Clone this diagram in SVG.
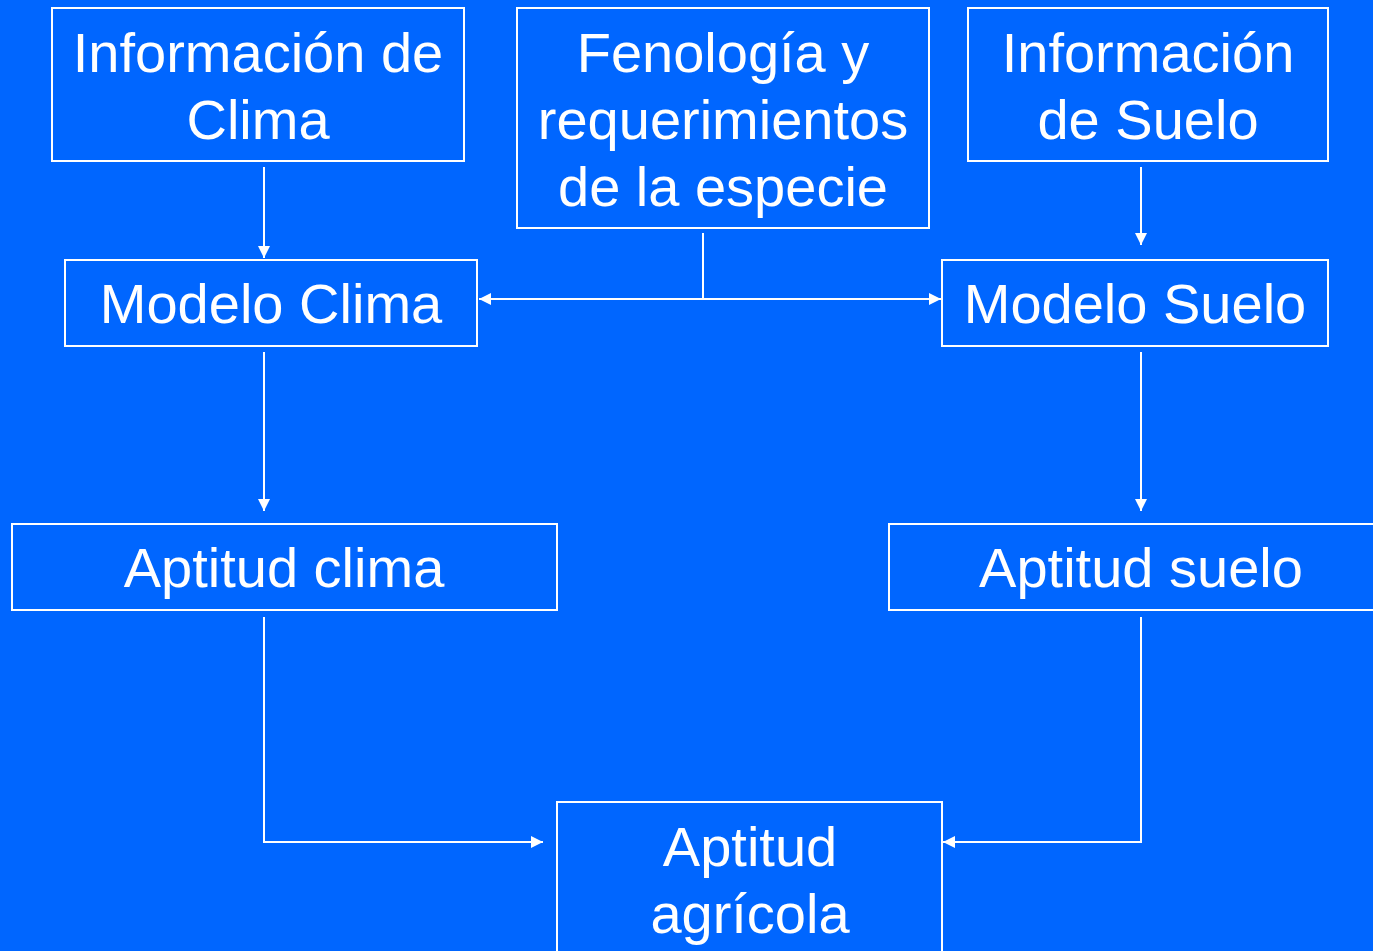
<svg xmlns="http://www.w3.org/2000/svg" width="1373" height="951" viewBox="0 0 1373 951">
<style>
.box{fill:none;stroke:#fff;stroke-width:2}
.t{font-family:"Liberation Sans",Arial,sans-serif;font-size:56px;fill:#fff;text-anchor:middle}
.c{fill:none;stroke:#fff;stroke-width:2}
</style>
<defs>
<marker id="ah" viewBox="0 0 12 12" refX="12" refY="6" markerWidth="12" markerHeight="12" markerUnits="userSpaceOnUse" orient="auto">
<path d="M0,0 L12,6 L0,12 Z" fill="#fff"/>
</marker>
</defs>
<rect width="1373" height="951" fill="#0066FF"/>
<g id="info-clima"><rect class="box" x="52" y="8" width="412" height="153"/>
<text class="t" x="258" y="72">Información de</text><text class="t" x="258" y="139">Clima</text></g>
<g id="fenologia"><rect class="box" x="517" y="8" width="412" height="220"/>
<text class="t" x="723" y="72">Fenología y</text><text class="t" x="723" y="139">requerimientos</text><text class="t" x="723" y="206">de la especie</text></g>
<g id="info-suelo"><rect class="box" x="968" y="8" width="360" height="153"/>
<text class="t" x="1148" y="72">Información</text><text class="t" x="1148" y="139">de Suelo</text></g>
<g id="modelo-clima"><rect class="box" x="65" y="260" width="412" height="86"/>
<text class="t" x="271" y="323">Modelo Clima</text></g>
<g id="modelo-suelo"><rect class="box" x="942" y="260" width="386" height="86"/>
<text class="t" x="1135" y="323">Modelo Suelo</text></g>
<g id="aptitud-clima"><rect class="box" x="12" y="524" width="545" height="86"/>
<text class="t" x="284" y="587">Aptitud clima</text></g>
<g id="aptitud-suelo"><rect class="box" x="889" y="524" width="500" height="86"/>
<text class="t" x="1141" y="587">Aptitud suelo</text></g>
<g id="aptitud-agricola"><rect class="box" x="557" y="802" width="385" height="170"/>
<text class="t" x="750" y="866">Aptitud</text><text class="t" x="750" y="933">agrícola</text></g>
<g id="connectors">
<path class="c" d="M264,167 V258" marker-end="url(#ah)"/>
<path class="c" d="M1141,167 V245" marker-end="url(#ah)"/>
<path class="c" d="M703,233 V299"/>
<path class="c" d="M703,299 H479" marker-end="url(#ah)"/>
<path class="c" d="M703,299 H941" marker-end="url(#ah)"/>
<path class="c" d="M264,352 V511" marker-end="url(#ah)"/>
<path class="c" d="M1141,352 V511" marker-end="url(#ah)"/>
<path class="c" d="M264,617 V842 H543" marker-end="url(#ah)"/>
<path class="c" d="M1141,617 V842 H943" marker-end="url(#ah)"/>
</g>
</svg>
